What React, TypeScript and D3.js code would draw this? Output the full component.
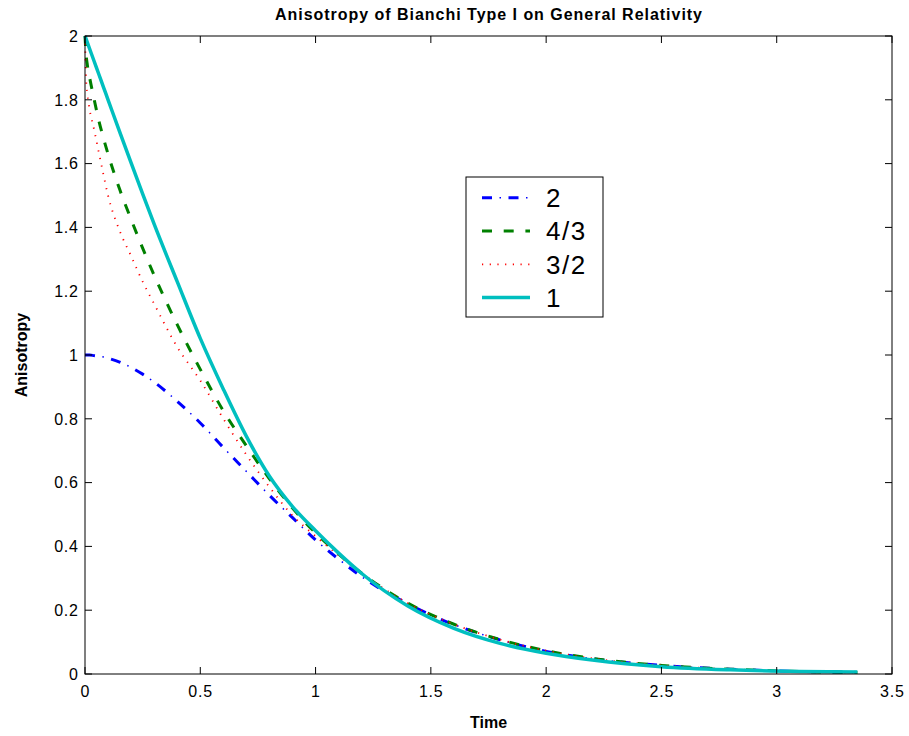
import React from "react";
import * as d3 from "d3";

const titleText = "Anisotropy of Bianchi Type I on General Relativity";
const xLabel = "Time";
const yLabel = "Anisotropy";

const time = [0, 0.005, 0.01, 0.02, 0.04, 0.06, 0.08, 0.1, 0.15, 0.2, 0.25, 0.3, 0.4, 0.5, 0.6, 0.7, 0.8, 0.9, 1.0, 1.1, 1.2, 1.4, 1.6, 1.8, 2.0, 2.2, 2.5, 2.8, 3.1, 3.35];

const series2 = [1.0, 1.0, 1.0, 1.0, 0.998, 0.996, 0.994, 0.99, 0.978, 0.961, 0.94, 0.915, 0.855, 0.787, 0.71, 0.635, 0.56, 0.49, 0.42, 0.36, 0.305, 0.22, 0.155, 0.107, 0.071, 0.048, 0.027, 0.015, 0.008, 0.005];
const series43 = [2.0, 1.94, 1.91, 1.87, 1.8, 1.735, 1.68, 1.63, 1.52, 1.425, 1.335, 1.25, 1.095, 0.955, 0.825, 0.715, 0.612, 0.52, 0.442, 0.376, 0.316, 0.222, 0.156, 0.108, 0.073, 0.049, 0.027, 0.015, 0.008, 0.005];
const series32 = [2.0, 1.86, 1.82, 1.77, 1.705, 1.635, 1.565, 1.5, 1.39, 1.31, 1.23, 1.16, 1.025, 0.92, 0.8, 0.687, 0.586, 0.497, 0.432, 0.372, 0.316, 0.222, 0.156, 0.108, 0.073, 0.049, 0.027, 0.015, 0.008, 0.005];
const series1 = [2.0, 1.99, 1.98, 1.96, 1.92, 1.88, 1.84, 1.8, 1.7, 1.602, 1.505, 1.41, 1.23, 1.052, 0.893, 0.745, 0.62, 0.525, 0.449, 0.379, 0.315, 0.213, 0.143, 0.096, 0.065, 0.044, 0.023, 0.013, 0.008, 0.006];

const legendLabels = ["2", "4/3", "3/2", "1"];
const xTicks = [0, 0.5, 1, 1.5, 2, 2.5, 3, 3.5];
const xTickLabels = ["0", "0.5", "1", "1.5", "2", "2.5", "3", "3.5"];
const yTicks = [0, 0.2, 0.4, 0.6, 0.8, 1, 1.2, 1.4, 1.6, 1.8, 2];
const yTickLabels = ["0", "0.2", "0.4", "0.6", "0.8", "1", "1.2", "1.4", "1.6", "1.8", "2"];

const FONT = "'Liberation Sans', Arial, Helvetica, sans-serif";

type Style = { color: string; width: number; dash?: string; dot?: string; dotWidth?: number };
const styles: Style[] = [
  { color: "#0000ff", width: 3, dash: "10,16.5", dot: "0,17.5,1.5,7.5", dotWidth: 1.5 },
  { color: "#008000", width: 3, dash: "10,11.7" },
  { color: "#ff0000", width: 1.8, dash: "1.2,6.5" },
  { color: "#00bfbf", width: 3.5 },
];

export default function App() {
  const W = 909, H = 736;
  const L = 85, R = 892, T = 36, B = 674;
  const x = d3.scaleLinear().domain([0, 3.5]).range([L, R]);
  const y = d3.scaleLinear().domain([0, 2]).range([B, T]);
  const allSeries = [series2, series43, series32, series1];
  const line = d3
    .line<number>()
    .x((_, i) => x(time[i]))
    .y((d) => y(d))
    .curve(d3.curveMonotoneX);

  const tickLen = 7;
  const legX = 466, legY = 177, legW = 137, legH = 140;
  const entryY = (i: number) => 197.7 + i * 33.3;

  return (
    <svg width={W} height={H} style={{ position: "absolute", left: 0, top: 0, background: "#fff" }} fontFamily={FONT}>
      <rect x={0} y={0} width={W} height={H} fill="#fff" />
      <rect x={L} y={T} width={R - L} height={B - T} fill="#fff" />
      {allSeries.map((s, k) => {
        const st = styles[k];
        const d = line(s) || "";
        return (
          <g key={k}>
            <path d={d} fill="none" stroke={st.color} strokeWidth={st.width} strokeDasharray={st.dash} strokeLinecap="butt" />
            {st.dot && (
              <path d={d} fill="none" stroke={st.color} strokeWidth={st.dotWidth} strokeDasharray={st.dot} strokeLinecap="butt" />
            )}
          </g>
        );
      })}
      <rect x={L} y={T} width={R - L} height={B - T} fill="none" stroke="#000" strokeWidth={1} />
      {xTicks.map((t, i) => (
        <g key={"x" + i}>
          <line x1={x(t)} x2={x(t)} y1={B} y2={B - tickLen} stroke="#000" />
          <line x1={x(t)} x2={x(t)} y1={T} y2={T + tickLen} stroke="#000" />
          <text x={x(t) + 0.4} y={697} fontSize={16} letterSpacing={0.8} textAnchor="middle" fill="#000">
            {xTickLabels[i]}
          </text>
        </g>
      ))}
      {yTicks.map((t, i) => (
        <g key={"y" + i}>
          <line x1={L} x2={L + tickLen} y1={y(t)} y2={y(t)} stroke="#000" />
          <line x1={R} x2={R - tickLen} y1={y(t)} y2={y(t)} stroke="#000" />
          <text x={78.8} y={y(t) + 5.7} fontSize={16} letterSpacing={0.8} textAnchor="end" fill="#000">
            {yTickLabels[i]}
          </text>
        </g>
      ))}
      <text x={(L + R) / 2} y={20} fontSize={16} fontWeight="bold" textAnchor="middle" textLength={427} lengthAdjust="spacing" fill="#000">
        {titleText}
      </text>
      <text x={(L + R) / 2} y={728} fontSize={16} fontWeight="bold" textAnchor="middle" fill="#000">
        {xLabel}
      </text>
      <text transform={`translate(27,355) rotate(-90)`} fontSize={16} fontWeight="bold" textAnchor="middle" fill="#000">
        {yLabel}
      </text>
      <rect x={legX} y={legY} width={legW} height={legH} fill="#fff" stroke="#000" strokeWidth={1} />
      {legendLabels.map((lab, i) => {
        const st = styles[i];
        const yy = entryY(i);
        return (
          <g key={"l" + i}>
            <line x1={482} x2={530} y1={yy} y2={yy} stroke={st.color} strokeWidth={st.width} strokeDasharray={st.dash} />
            {st.dot && (
              <line x1={482} x2={530} y1={yy} y2={yy} stroke={st.color} strokeWidth={st.dotWidth} strokeDasharray={st.dot} />
            )}
            <text x={546} y={yy + 9.3} fontSize={26} letterSpacing={1.5} fill="#000">
              {lab}
            </text>
          </g>
        );
      })}
    </svg>
  );
}
